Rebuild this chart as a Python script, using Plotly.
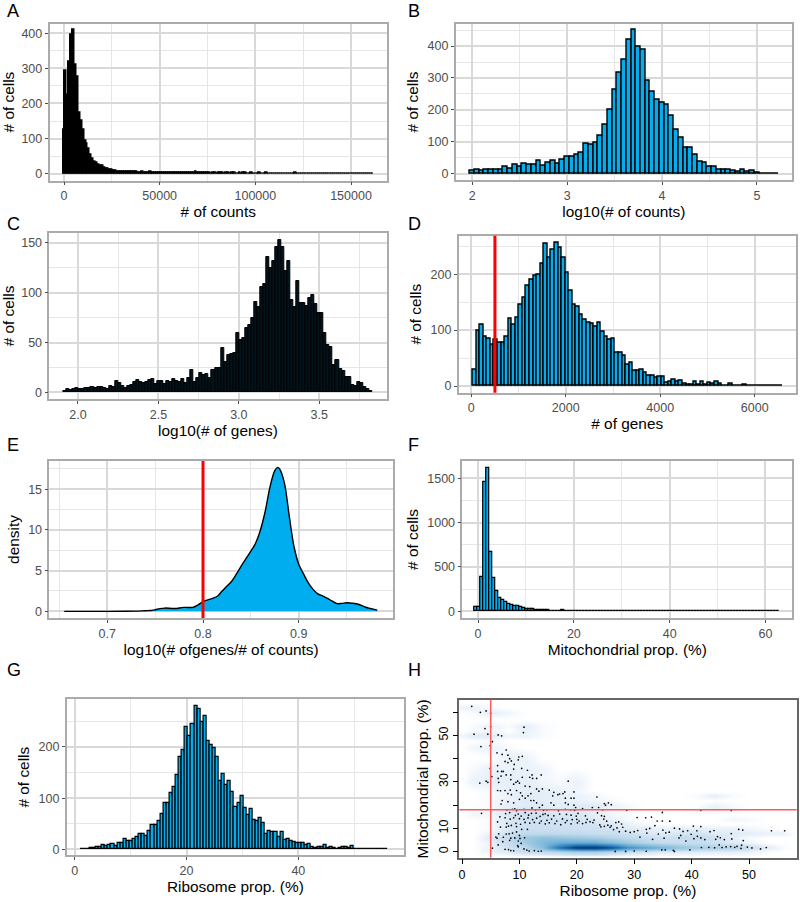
import plotly.graph_objects as go

W, H = 800, 902
FONT = "Liberation Sans"
BLUE = "#00aeef"

# histogram counts
a_counts = [125, 293, 225, 320, 395, 410, 310, 275, 175, 150, 125, 95, 85, 70, 55, 42, 35, 30, 27, 22, 22, 18, 15, 13,
            10, 10, 8, 8, 7, 7, 6, 6, 7, 6, 5, 6, 6, 7, 5, 4, 4, 5, 4, 4, 4, 5, 3, 4, 3, 3, 4, 3, 3, 3, 3, 2, 4, 3, 2, 2,
            3, 2, 2, 3, 2, 3, 2, 2, 3, 5, 3, 2, 2, 2, 3, 2, 2, 1, 2, 2, 1, 2, 3, 2, 1, 2, 2, 1, 2, 2, 1, 1, 2, 1, 2, 2,
            1, 1, 2, 1, 1, 1, 2, 1, 1, 1, 2, 1, 1, 1, 1, 0, 1, 1, 1, 0, 1, 1, 1, 1, 1, 2, 1, 0, 1, 1, 1, 0, 1, 0, 1, 1,
            0, 1, 1, 0, 1, 0, 1, 1, 0, 1, 0, 1, 1, 0, 1, 0, 1, 0, 1, 0, 0, 1, 0, 1, 0, 0, 1, 0, 1, 1]
b_counts = [10, 11, 8, 14, 14, 14, 13, 22, 16, 28, 21, 32, 27, 27, 42, 24, 33, 40, 31, 45, 53, 54, 60, 65, 93, 90, 98,
            120, 152, 202, 262, 318, 358, 420, 450, 398, 390, 290, 257, 232, 222, 217, 183, 138, 113, 80, 80, 60, 38,
            33, 23, 23, 14, 13, 12, 8, 7, 13, 6, 8, 3, 1, 1, 1, 1]
c_counts = [1, 3, 2, 3, 4, 3, 3, 4, 4, 5, 4, 5, 5, 4, 3, 6, 5, 11, 9, 6, 4, 6, 7, 10, 12, 10, 9, 10, 12, 13, 8, 11, 11,
            8, 11, 10, 13, 11, 10, 13, 9, 14, 22, 10, 14, 19, 17, 18, 14, 22, 24, 24, 45, 30, 37, 38, 40, 60, 53, 55,
            65, 68, 75, 91, 86, 106, 109, 136, 125, 132, 146, 153, 146, 122, 132, 93, 86, 112, 90, 90, 87, 95, 98, 89,
            80, 80, 60, 48, 46, 27, 32, 23, 21, 15, 15, 7, 6, 10, 9, 5, 3, 1]
d_counts = [30, 99, 109, 88, 85, 74, 83, 77, 77, 89, 120, 110, 123, 145, 158, 179, 191, 197, 200, 218, 255, 230, 244,
            257, 248, 230, 203, 171, 145, 142, 127, 118, 113, 111, 107, 114, 97, 88, 82, 84, 60, 60, 54, 39, 42, 28,
            27, 29, 23, 18, 19, 15, 16, 16, 6, 8, 11, 8, 9, 5, 2, 3, 7, 3, 8, 3, 6, 4, 8, 4, 0, 1, 4, 1, 1, 1, 2, 1,
            0, 1, 1, 1, 0, 1, 0, 1, 1]
f_counts = [50, 50, 385, 1460, 1620, 670, 375, 225, 150, 130, 105, 85, 72, 62, 65, 45, 40, 25, 22, 30, 15, 14, 13, 12,
            10, 8, 6, 8, 8, 15, 6, 5, 5, 4, 4, 4, 5, 3, 3, 3, 4, 4, 4, 2, 2, 3, 2, 2, 1, 2, 2, 1, 2, 1, 1, 2, 1, 1, 1,
            2, 1, 1, 1, 1, 1, 2, 1, 1, 1, 1, 1, 1, 1, 1, 1, 1, 1, 1, 2, 1, 1, 1, 1, 1, 1, 1, 1, 1, 1, 1, 1, 1, 1, 1, 1,
            1, 1, 1, 1, 1, 1]
g_counts = [1, 1, 1, 2, 3, 4, 5, 9, 7, 9, 10, 7, 13, 12, 21, 16, 17, 20, 24, 29, 30, 26, 35, 48, 48, 55, 70, 90,
            90, 110, 122, 146, 180, 195, 240, 222, 245, 281, 275, 248, 260, 212, 203, 198, 180, 133, 148, 125, 133,
            113, 83, 90, 104, 80, 67, 78, 58, 55, 62, 51, 30, 36, 34, 33, 25, 33, 18, 20, 17, 15, 13, 13, 12, 8, 10, 5,
            3, 5, 4, 9, 3, 5, 3, 1, 2, 5, 4, 2, 7, 1, 1, 1, 0, 1, 1, 0, 1, 1, 1, 1]

# density curve of panel E
e_x = [0.655, 0.70, 0.72, 0.73, 0.74, 0.745, 0.75, 0.755, 0.76, 0.77, 0.78, 0.79, 0.795, 0.80, 0.805, 0.81, 0.815, 0.82,
       0.825, 0.83, 0.835, 0.84, 0.845, 0.85, 0.855, 0.86, 0.865, 0.87, 0.875, 0.878, 0.88, 0.885, 0.89, 0.895, 0.90,
       0.905, 0.91, 0.915, 0.92, 0.925, 0.93, 0.935, 0.94, 0.945, 0.95, 0.955, 0.96, 0.965, 0.97, 0.975, 0.98, 0.982]
e_y = [0.0, 0.0, 0.01, 0.03, 0.08, 0.1, 0.2, 0.33, 0.4, 0.35, 0.48, 0.5, 0.8, 1.2, 1.4, 1.6, 1.85, 2.5, 3.1, 3.7, 4.6,
       5.6, 6.5, 7.4, 8.4, 10, 12.3, 15.3, 17.3, 17.7, 17.5, 15.8, 11.8, 8, 5.8, 4.6, 3.5, 2.7, 2.15, 1.9, 1.6, 1.25,
       0.95, 0.98, 1.05, 1.0, 0.93, 0.75, 0.5, 0.35, 0.2, 0.12]

# smoothed density of panel H, estimated by eye
h_grid_x = [0, 2, 5, 8, 11, 14, 17, 20, 23, 26, 29, 32, 35, 38, 41, 44, 47, 50, 53, 56, 58]
h_grid_y = [-2, 0, 2, 4, 6, 8, 10, 12, 14, 16, 18, 20, 22, 24, 26, 30, 36, 40, 42, 45, 48, 50, 52, 54, 57, 60, 62, 64]
h_density = [
    [0, 0, 0, 0, 0, 0, 0, 0, 0, 0, 0, 0, 0, 0, 0, 0, 0, 0, 0, 0, 0],
    [0, 0, .03, .05, .10, .12, .15, .20, .20, .15, .10, .08, .05, .05, .05, .04, .04, .03, .01, 0, 0],
    [0, 0, .03, .08, .12, .30, .70, .97, 1, .85, .55, .45, .35, .25, .20, .18, .15, .10, .05, .01, 0],
    [0, 0, .03, .10, .20, .32, .40, .42, .40, .32, .22, .15, .10, .10, .10, .08, .05, .02, 0, 0, 0],
    [0, 0, .05, .12, .22, .28, .25, .22, .20, .15, .12, .10, .08, .10, .12, .08, .04, .01, 0, 0, 0],
    [0, 0, .03, .08, .12, .12, .12, .12, .10, .10, .08, .06, .05, .06, .08, .05, .05, .04, .03, .03, 0],
    [0, 0, .01, .06, .09, .09, .09, .08, .08, .07, .05, .04, .03, .04, .04, .03, .03, .02, .01, 0, 0],
    [0, 0, .01, .06, .08, .08, .08, .08, .07, .05, .03, .01, 0, 0, 0, 0, 0, 0, 0, 0, 0],
    [0, 0, .01, .06, .08, .08, .08, .07, .05, .03, .01, 0, 0, 0, 0, 0, .02, .01, 0, 0, 0],
    [0, .02, .02, .06, .08, .08, .06, .06, .04, .02, .01, 0, 0, 0, 0, 0, 0, 0, 0, 0, 0],
    [0, .01, .01, .05, .07, .06, .05, .05, .04, .02, .01, 0, 0, 0, .02, .03, .02, 0, 0, 0, 0],
    [0, 0, .01, .04, .05, .05, .04, .05, .05, .03, .01, 0, 0, 0, 0, .03, .01, 0, 0, 0, 0],
    [0, 0, .01, .03, .05, .04, .04, .03, .02, .01, 0, 0, 0, 0, 0, 0, 0, 0, 0, 0, 0],
    [0, 0, .01, .03, .05, .04, .04, .03, .02, 0, 0, 0, 0, 0, .01, .04, .01, 0, 0, 0, 0],
    [0, 0, .01, .03, .04, .04, .03, .02, 0, 0, 0, 0, 0, 0, 0, 0, 0, 0, 0, 0, 0],
    [0, .03, .04, .04, .04, .02, .01, .03, 0, 0, 0, 0, 0, 0, 0, 0, 0, 0, 0, 0, 0],
    [0, .01, .03, .03, .03, .02, 0, 0, 0, 0, 0, 0, 0, 0, 0, 0, 0, 0, 0, 0, 0],
    [0, 0, 0, .03, .03, 0, 0, 0, 0, 0, 0, 0, 0, 0, 0, 0, 0, 0, 0, 0, 0],
    [0, 0, .01, .03, .02, 0, 0, 0, 0, 0, 0, 0, 0, 0, 0, 0, 0, 0, 0, 0, 0],
    [0, .02, .03, .01, 0, 0, 0, 0, 0, 0, 0, 0, 0, 0, 0, 0, 0, 0, 0, 0, 0],
    [0, 0, .01, 0, 0, 0, 0, 0, 0, 0, 0, 0, 0, 0, 0, 0, 0, 0, 0, 0, 0],
    [.02, .05, .05, .02, .03, .01, 0, 0, 0, 0, 0, 0, 0, 0, 0, 0, 0, 0, 0, 0, 0],
    [0, .01, .02, 0, .03, .01, 0, 0, 0, 0, 0, 0, 0, 0, 0, 0, 0, 0, 0, 0, 0],
    [0, .01, .03, .01, .04, .01, 0, 0, 0, 0, 0, 0, 0, 0, 0, 0, 0, 0, 0, 0, 0],
    [0, 0, 0, 0, 0, 0, 0, 0, 0, 0, 0, 0, 0, 0, 0, 0, 0, 0, 0, 0, 0],
    [0, .01, .04, .02, 0, 0, 0, 0, 0, 0, 0, 0, 0, 0, 0, 0, 0, 0, 0, 0, 0],
    [.03, .03, .01, 0, 0, 0, 0, 0, 0, 0, 0, 0, 0, 0, 0, 0, 0, 0, 0, 0, 0],
    [0, 0, 0, 0, 0, 0, 0, 0, 0, 0, 0, 0, 0, 0, 0, 0, 0, 0, 0, 0, 0],
]

# outlying cells drawn over the density in panel H (ribosome %, mito %)
h_points = [
    (1.7, 62.5), (3.2, 59.9), (4.2, 60.5), (5.0, 59.5), (2.1, 50.5), (4.0, 52.9), (4.5, 50.5), (5.0, 53.8), (6.3, 50.2),
    (6.9, 49.8), (10.8, 53.5), (10.7, 51.2), (3.3, 45.2), (4.9, 45.6), (5.3, 47.3), (6.1, 42.5), (7.0, 41.8), (7.7, 43.7),
    (8.0, 41.5), (8.3, 40.0), (8.6, 39.0), (9.8, 39.5), (10.5, 41.0), (9.9, 40.7), (7.5, 38.8), (6.2, 37.0), (8.0, 38.3),
    (9.1, 37.5), (4.9, 35.8), (6.2, 34.5), (6.9, 34.5), (7.2, 34.5), (8.5, 33.0), (9.0, 35.5), (10.4, 35.8), (11.4, 35.0),
    (12.2, 33.0), (13.8, 33.0), (3.1, 29.5), (4.2, 30.3), (4.5, 29.8), (5.2, 32.3), (6.3, 31.5), (6.8, 32.5), (6.4, 29.8),
    (7.7, 33.0), (8.5, 31.0), (9.7, 30.3), (10.0, 29.5), (9.4, 29.8), (9.0, 29.0), (10.5, 32.0), (11.8, 32.0), (12.3, 31.5),
    (13.0, 31.5), (14.0, 27.0), (11.0, 28.2), (11.8, 28.0), (18.5, 30.3), (6.2, 26.3), (6.7, 26.2), (7.5, 26.3), (8.4, 26.5),
    (9.5, 26.3), (8.0, 25.0), (8.6, 24.5), (10.2, 25.3), (10.5, 24.0), (11.0, 23.0), (11.5, 24.0), (12.0, 25.0), (13.0, 27.0),
    (13.4, 26.0), (15.2, 26.5), (16.0, 25.5), (17.0, 24.8), (17.6, 25.0), (17.9, 25.7), (19.5, 25.7), (15.8, 24.0), (16.7, 24.5),
    (18.0, 23.0), (19.0, 23.0), (19.5, 23.0), (23.5, 23.5), (7.0, 22.0), (6.8, 20.5), (8.0, 21.5), (9.0, 21.0), (10.0, 22.5),
    (12.0, 22.0), (12.5, 22.0), (13.0, 21.0), (14.0, 20.0), (15.5, 21.0), (16.0, 20.0), (18.0, 21.0), (18.5, 20.3), (19.5, 20.0),
    (19.8, 19.0), (24.8, 20.7), (25.5, 21.0), (25.0, 20.0), (26.0, 20.2), (22.7, 19.0), (21.0, 18.5), (23.8, 19.0), (3.4, 16.5),
    (7.8, 18.0), (8.8, 18.2), (9.2, 18.4), (9.5, 17.6), (10.8, 18.2), (12.2, 18.8), (12.8, 18.0), (13.5, 19.0), (14.2, 17.8),
    (14.8, 18.0), (16.8, 17.6), (18.0, 18.2), (18.9, 18.0), (19.6, 17.8), (24.5, 18.0), (28.7, 17.8), (34.9, 16.9), (41.6, 17.8),
    (46.9, 17.7), (7.6, 16.4), (8.3, 16.8), (9.3, 15.6), (9.8, 16.2), (10.3, 15.3), (11.0, 16.8), (11.6, 15.7), (12.1, 16.5),
    (12.9, 16.6), (13.6, 15.2), (14.1, 16.0), (14.5, 16.3), (15.0, 15.6), (16.0, 15.4), (17.0, 16.2), (18.2, 16.0), (19.0, 15.7),
    (19.9, 15.3), (20.2, 16.5), (21.5, 15.4), (23.6, 16.7), (24.3, 15.5), (24.8, 15.2), (6.6, 15.0), (7.5, 14.6), (8.4, 14.0),
    (9.0, 14.6), (10.0, 14.2), (10.8, 13.9), (11.5, 14.5), (12.3, 13.8), (13.0, 14.4), (13.8, 13.2), (14.8, 13.5), (15.6, 14.0),
    (16.5, 13.2), (17.5, 14.1), (18.3, 13.4), (19.2, 13.8), (20.0, 13.9), (20.4, 13.2), (21.8, 13.9), (22.3, 12.9), (23.0, 13.6),
    (24.7, 14.0), (25.2, 13.1), (30.5, 14.7), (32.0, 14.6), (33.0, 14.9), (34.0, 13.2), (34.9, 13.2), (36.2, 13.1), (6.2, 12.8),
    (7.8, 12.2), (8.1, 11.0), (8.6, 11.3), (9.4, 12.2), (10.2, 11.8), (11.0, 12.6), (11.8, 12.3), (12.6, 12.6), (13.5, 12.3),
    (14.5, 12.0), (15.2, 12.4), (16.2, 12.1), (17.2, 11.6), (18.0, 12.5), (19.0, 12.0), (20.1, 12.4), (21.0, 12.1), (21.6, 12.6),
    (22.8, 12.5), (24.0, 11.5), (24.8, 10.9), (25.4, 11.4), (26.0, 11.1), (26.8, 12.5), (27.3, 12.8), (27.8, 11.9), (6.7, 10.6),
    (7.7, 10.6), (9.5, 10.8), (10.4, 9.6), (11.4, 9.6), (24.2, 10.7), (25.8, 10.5), (27.0, 10.2), (28.0, 10.5), (26.4, 9.5),
    (27.4, 8.6), (28.5, 8.8), (29.3, 8.3), (30.0, 8.6), (30.6, 9.1), (32.1, 9.6), (32.7, 10.0), (32.2, 8.0), (33.6, 11.2),
    (35.0, 9.3), (35.5, 8.1), (36.1, 8.4), (34.2, 7.6), (37.0, 10.1), (37.9, 9.8), (38.5, 8.7), (38.1, 7.0), (39.3, 9.0),
    (39.9, 7.5), (40.3, 11.0), (40.9, 9.0), (41.6, 10.8), (41.0, 6.6), (40.4, 5.6), (41.6, 5.9), (42.3, 5.2), (43.2, 8.6),
    (43.9, 9.1), (44.5, 6.5), (44.2, 5.3), (45.0, 6.0), (45.7, 5.2), (44.8, 2.9), (46.9, 7.8), (47.0, 5.5), (48.2, 9.6),
    (48.9, 9.3), (49.0, 4.8), (48.7, 2.8), (6.4, 7.7), (7.7, 7.6), (8.2, 7.7), (8.8, 8.0), (9.5, 8.5), (10.0, 7.0),
    (5.9, 6.3), (6.1, 5.8), (7.2, 6.2), (8.5, 5.8), (9.2, 5.9), (10.1, 5.7), (10.9, 6.0), (9.8, 4.6), (10.3, 3.6),
    (8.3, 4.9), (7.1, 4.3), (6.3, 2.9), (9.7, 2.6), (5.3, 1.5), (7.5, 1.0), (8.1, 0.9), (8.5, 0.5), (9.0, 0.4),
    (9.8, 2.1), (10.8, 1.2), (11.3, 0.7), (11.7, 0.3), (12.6, 0.5), (13.3, 0.2), (13.8, 0.3), (26.7, 0.1), (28.5, 0.1),
    (30.0, 0.3), (32.1, 0.2), (34.8, 0.8), (35.4, 0.8), (36.8, 0.6), (37.0, 0.1), (39.7, 0.8), (41.7, 1.8), (43.0, 1.9),
    (44.0, 1.7), (45.3, 1.8), (46.0, 2.1), (46.8, 2.2), (47.5, 1.9), (47.9, 2.3), (48.6, 1.4), (49.7, 2.0), (50.5, 1.6),
    (52.0, 1.2), (53.0, 1.8), (53.9, 9.0), (56.2, 9.0), (35.2, 5.8), (37.8, 5.9), (39.0, 4.6), (33.2, 5.3), (31.0, 6.3),
]

# pixel box of each panel (left, right, top, bottom) in the 800x902 figure
panels = {
    "A": dict(box=(49.5, 387, 23.7, 180.5), xr=(-7578, 168810), yr=(-19.4, 427.3), xd=(50000, 25000), yd=(100, 50), xf="d"),
    "B": dict(box=(455.7, 792, 23.7, 180.3), xr=(1.825, 5.37), yr=(-20.7, 470), xd=(1, 0.5), yd=(100, 50), xf="d"),
    "C": dict(box=(49.3, 386.7, 233, 399), xr=(1.822, 3.919), yr=(-6.7, 160), xd=(0.5, 0.25), yd=(50, 25), xf=".1f"),
    "D": dict(box=(458.7, 795.7, 235.7, 392.7), xr=(-267, 6868), yr=(-12, 269), xd=(2000, 1000), yd=(100, 50), xf="d"),
    "E": dict(box=(49.3, 393, 461, 618), xr=(0.6394, 0.9985), yr=(-0.82, 18.48), xd=(0.1, 0.05), yd=(5, 2.5), xf=".1f"),
    "F": dict(box=(462.3, 792.3, 461, 618), xr=(-3.28, 65.6), yr=(-75.6, 1695), xd=(20, 10), yd=(500, 250), xf="d"),
    "G": dict(box=(66.7, 404, 699, 855.3), xr=(-1.43, 58.9), yr=(-11.7, 293.8), xd=(20, 10), yd=(100, 50), xf="d"),
}
x_titles = {"A": "# of counts", "B": "log10(# of counts)", "C": "log10(# of genes)", "D": "# of genes",
            "E": "log10(# ofgenes/# of counts)", "F": "Mitochondrial prop. (%)", "G": "Ribosome prop. (%)"}
y_titles = {"A": "# of cells", "B": "# of cells", "C": "# of cells", "D": "# of cells",
            "E": "density", "F": "# of cells", "G": "# of cells"}
letter_pos = {"A": (5, 11), "B": (406, 11), "C": (5, 224), "D": (406, 224),
              "E": (5, 445), "F": (406, 445), "G": (5, 670), "H": (406, 670)}

fig = go.Figure()


def dom_x(l, r):
    return [l / W, r / W]


def dom_y(t, b):
    return [1 - b / H, 1 - t / H]


def hist(n, counts, x0, dx, fill=BLUE, lw=1.4):
    fig.add_trace(go.Bar(y=counts, x0=x0, dx=dx, width=dx, marker=dict(color=fill, line=dict(color="black", width=lw)),
                         xaxis="x" + n, yaxis="y" + n, showlegend=False))


hist("", a_counts, 0, 1000, "black", 1.5)
hist("2", b_counts, 2.0, 0.05)
hist("3", c_counts, 1.92, 0.0188, "#03131c", 1)
hist("4", d_counts, 70, 75.3)
fig.add_trace(go.Scatter(x=e_x, y=e_y, mode="lines", fill="tozeroy", fillcolor=BLUE, line=dict(color="black", width=1.4, shape="spline"),
                         xaxis="x5", yaxis="y5", showlegend=False))
hist("6", f_counts, -0.5, 0.63, BLUE, 1.2)
hist("7", g_counts, 1.3, 0.55, BLUE, 1.2)

fig.add_trace(go.Heatmap(x=h_grid_x, y=h_grid_y, z=h_density, zsmooth="best", showscale=False, zmin=0, zmax=1,
                         colorscale=[[0, "#ffffff"], [0.03, "#eaf2fa"], [0.08, "#cfe1f2"], [0.2, "#a5cde3"], [0.4, "#6aaed6"],
                                     [0.6, "#3787c0"], [0.8, "#105ba4"], [1, "#08306b"]],
                         xaxis="x8", yaxis="y8"))
fig.add_trace(go.Scatter(x=[p[0] for p in h_points], y=[p[1] for p in h_points], mode="markers",
                         marker=dict(color="black", size=1.7), xaxis="x8", yaxis="y8", showlegend=False))

layout = {}
for i, (name, p) in enumerate(panels.items()):
    suffix = "" if i == 0 else str(i + 1)
    l, r, t, b = p["box"]
    common = dict(showline=True, linecolor="#ababab", linewidth=1.5, mirror=True, showgrid=True, gridcolor="#d9d9d9",
                  gridwidth=1.5, zeroline=False, ticks="outside", ticklen=3, tickwidth=1, tickcolor="#4d4d4d",
                  tickfont=dict(family=FONT, size=12.5, color="#4d4d4d"))
    layout["xaxis" + suffix] = dict(common, domain=dom_x(l, r), range=list(p["xr"]), anchor="y" + suffix, tick0=0,
                                    dtick=p["xd"][0], tickformat=p["xf"],
                                    title=dict(text=x_titles[name], standoff=2, font=dict(family=FONT, size=15.4, color="black")),
                                    minor=dict(dtick=p["xd"][1], tick0=0, showgrid=True, gridcolor="#e6e6e6", gridwidth=1.1, ticks=""))
    layout["yaxis" + suffix] = dict(common, domain=dom_y(t, b), range=list(p["yr"]), anchor="x" + suffix, tick0=0,
                                    dtick=p["yd"][0], title=dict(text=y_titles[name], standoff=5, font=dict(family=FONT, size=15.4, color="black")),
                                    minor=dict(dtick=p["yd"][1], tick0=0, showgrid=True, gridcolor="#e6e6e6", gridwidth=1.1, ticks=""))

# panel H is a base R smoothScatter, no grid and darker box
base = dict(showline=True, linecolor="#666666", linewidth=1.5, mirror=True, showgrid=False, zeroline=False, ticks="outside",
            ticklen=5, tickwidth=1, tickcolor="black", tickfont=dict(family=FONT, size=12.5, color="black"))
layout["xaxis8"] = dict(base, domain=dom_x(459.3, 796.7), range=[-0.47, 58.3], anchor="y8", tickvals=[0, 10, 20, 30, 40, 50],
                        title=dict(text="Ribosome prop. (%)", standoff=4, font=dict(family=FONT, size=15.4, color="black")))
layout["yaxis8"] = dict(base, domain=dom_y(700, 857.7), range=[-2.58, 65.2], anchor="x8", tickvals=[0, 10, 20, 30, 40, 50, 60],
                        ticktext=["0", "10", "", "30", "", "50", ""], tickangle=-90,
                        title=dict(text="Mitochondrial prop. (%)", standoff=4, font=dict(family=FONT, size=15.4, color="black")))

fig.update_layout(width=W, height=H, margin=dict(l=0, r=0, t=0, b=0), autosize=False, paper_bgcolor="white",
                  plot_bgcolor="white", bargap=0, **layout)

# red cut-off lines
fig.add_shape(type="line", xref="x4", yref="y4 domain", x0=500, x1=500, y0=0, y1=1, line=dict(color="#ff0000", width=3))
fig.add_shape(type="line", xref="x5", yref="y5 domain", x0=0.8, x1=0.8, y0=0, y1=1, line=dict(color="#ff0000", width=3))
fig.add_shape(type="line", xref="x8", yref="y8 domain", x0=5, x1=5, y0=0, y1=1, line=dict(color="#ff5a5a", width=1.5))
fig.add_shape(type="line", xref="x8 domain", yref="y8", x0=0, x1=1, y0=18, y1=18, line=dict(color="#ff5a5a", width=1.5))

for letter, (px, py) in letter_pos.items():
    fig.add_annotation(text=letter, xref="paper", yref="paper", x=px / W, y=1 - py / H, xanchor="left", yanchor="middle",
                       showarrow=False, font=dict(family=FONT, size=18, color="black"))

fig.write_html("out.html", config={"displayModeBar": False}, post_script="document.body.style.margin='0';")
